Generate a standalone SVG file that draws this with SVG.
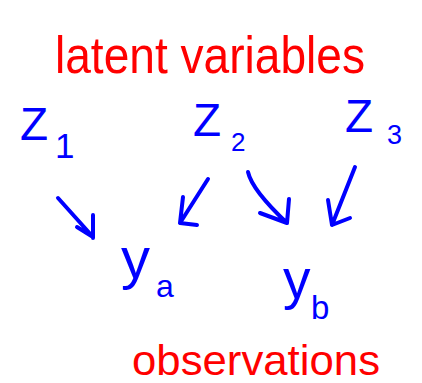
<svg xmlns="http://www.w3.org/2000/svg" width="422" height="383" viewBox="0 0 422 383">
<style>
.red{fill:#ff0000;font-family:"Liberation Sans",Arial,sans-serif}
.blue{fill:#0000ff;font-family:"Liberation Sans",Arial,sans-serif}
.arr{fill:none;stroke:#0000ff;stroke-width:4;stroke-linecap:round;stroke-linejoin:round}
</style>
<rect width="422" height="383" fill="#ffffff"/>
<g id="title-latent"><text class="red" x="55" y="73" font-size="52" textLength="310" lengthAdjust="spacingAndGlyphs">latent variables</text></g>
<g id="z1"><text class="blue" x="20" y="140" font-size="46">Z</text><text class="blue" x="55" y="158" font-size="35">1</text></g>
<g id="z2"><text class="blue" x="193" y="136" font-size="46">Z</text><text class="blue" x="231" y="151" font-size="26">2</text></g>
<g id="z3"><text class="blue" x="345" y="132" font-size="46">Z</text><text class="blue" x="387" y="144" font-size="27">3</text></g>
<g id="ya"><text class="blue" x="121" y="278" font-size="58">y</text><text class="blue" x="156" y="297" font-size="32">a</text></g>
<g id="yb"><text class="blue" x="283" y="298" font-size="55">y</text><text class="blue" x="311" y="319" font-size="33">b</text></g>
<g id="title-observations"><text class="red" x="132" y="375" font-size="42" textLength="248" lengthAdjust="spacingAndGlyphs">observations</text></g>
<g id="connectors">
<path class="arr" d="M58,198 L93,237 M93,215 L93,238 M77,227 L93,237"/>
<path class="arr" d="M208,179 L180,223 M183,197 L180,223 L197,225"/>
<path class="arr" d="M248,172 Q252,190 287,223 M289,199 L287,223 L260,213"/>
<path class="arr" d="M355,167 L332,225 M328,200 L332,225 L350,218"/>
</g>
</svg>
